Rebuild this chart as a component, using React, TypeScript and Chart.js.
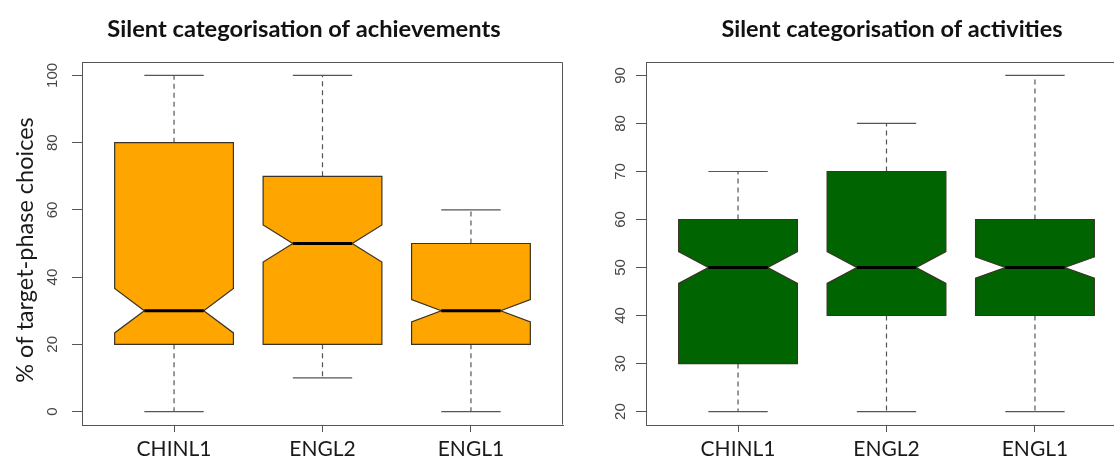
import React, { useEffect, useRef } from "react";
import { Chart, registerables } from "chart.js";

Chart.register(...registerables);

// ---------- data ----------
const categories = ["CHINL1", "ENGL2", "ENGL1"];

const achTitle = "Silent categorisation of achievements";
const achLow = [0, 10, 0];
const achQ1 = [20, 20, 20];
const achMedian = [30, 50, 30];
const achQ3 = [80, 70, 50];
const achHigh = [100, 100, 60];
const achNotchLow = [23.4, 44.5, 26.7];
const achNotchHigh = [36.6, 55.5, 33.3];
const achTicks = [0, 20, 40, 60, 80, 100];

const actTitle = "Silent categorisation of activities";
const actLow = [20, 20, 20];
const actQ1 = [30, 40, 40];
const actMedian = [50, 50, 50];
const actQ3 = [60, 70, 60];
const actHigh = [70, 80, 90];
const actNotchLow = [46.7, 46.7, 47.8];
const actNotchHigh = [53.3, 53.3, 52.2];
const actTicks = [20, 30, 40, 50, 60, 70, 80, 90];

const yAxisLabel = "% of target-phase choices";

// ---------- layout / style ----------
const W = 1114;
const H = 461;
const AXIS_COLOR = "#555555";

type PanelCfg = {
  title: string;
  titleX: number; // page coordinate of title centre
  titleSize: number;
  yLabel?: string;
  low: number[];
  q1: number[];
  med: number[];
  q3: number[];
  high: number[];
  notchLow: number[];
  notchHigh: number[];
  ticks: number[];
  fill: string;
  canvasLeft: number;
  canvasWidth: number;
  padRight: number;
};

function makeChart(canvas: HTMLCanvasElement, p: PanelCfg) {
  const lo = Math.min(...p.low);
  const hi = Math.max(...p.high);
  const ext = 0.04 * (hi - lo);
  const n = categories.length;
  const xExt = 0.04 * n;

  const plugin = {
    id: "notchedBoxes",
    afterDatasetsDraw(chart: any) {
      const { ctx, chartArea: a } = chart;
      const x = chart.scales.x;
      const y = chart.scales.y;
      ctx.save();
      // frame (top and right)
      ctx.strokeStyle = AXIS_COLOR;
      ctx.lineWidth = 1;
      ctx.beginPath();
      const L = Math.round(a.left) + 0.5;
      const R = Math.round(a.right) - 0.5;
      const T = Math.round(a.top) + 0.5;
      const B = Math.round(a.bottom) - 0.5;
      ctx.moveTo(L, T);
      ctx.lineTo(R, T);
      ctx.lineTo(R, B);
      ctx.stroke();

      for (let i = 0; i < n; i++) {
        const pos = i + 1;
        const cx = x.getPixelForValue(pos);
        const hw = x.getPixelForValue(pos + 0.4) - cx;
        const nw = hw / 2;
        const yLow = y.getPixelForValue(p.low[i]);
        const yQ1 = y.getPixelForValue(p.q1[i]);
        const yMed = y.getPixelForValue(p.med[i]);
        const yQ3 = y.getPixelForValue(p.q3[i]);
        const yHigh = y.getPixelForValue(p.high[i]);
        const yNL = y.getPixelForValue(p.notchLow[i]);
        const yNH = y.getPixelForValue(p.notchHigh[i]);

        // whiskers
        ctx.strokeStyle = AXIS_COLOR;
        ctx.lineWidth = 1.2;
        ctx.setLineDash([5, 4]);
        ctx.beginPath();
        ctx.moveTo(cx, yQ3);
        ctx.lineTo(cx, yHigh);
        ctx.moveTo(cx, yQ1);
        ctx.lineTo(cx, yLow);
        ctx.stroke();
        ctx.setLineDash([]);
        // staples
        ctx.beginPath();
        ctx.moveTo(cx - nw, yHigh);
        ctx.lineTo(cx + nw, yHigh);
        ctx.moveTo(cx - nw, yLow);
        ctx.lineTo(cx + nw, yLow);
        ctx.stroke();

        // notched box
        ctx.beginPath();
        ctx.moveTo(cx - hw, yQ3);
        ctx.lineTo(cx + hw, yQ3);
        ctx.lineTo(cx + hw, yNH);
        ctx.lineTo(cx + nw, yMed);
        ctx.lineTo(cx + hw, yNL);
        ctx.lineTo(cx + hw, yQ1);
        ctx.lineTo(cx - hw, yQ1);
        ctx.lineTo(cx - hw, yNL);
        ctx.lineTo(cx - nw, yMed);
        ctx.lineTo(cx - hw, yNH);
        ctx.closePath();
        ctx.fillStyle = p.fill;
        ctx.fill();
        ctx.strokeStyle = "#3a3326";
        ctx.lineWidth = 1.2;
        ctx.stroke();

        // median
        ctx.strokeStyle = "#000000";
        ctx.lineWidth = 3;
        ctx.beginPath();
        ctx.moveTo(cx - nw, yMed);
        ctx.lineTo(cx + nw, yMed);
        ctx.stroke();
      }

      // title
      ctx.fillStyle = "#111111";
      ctx.font = `bold ${p.titleSize}px Lato`;
      ctx.textAlign = "center";
      ctx.textBaseline = "middle";
      ctx.fillText(p.title, p.titleX - p.canvasLeft, 29);

      // y axis label
      if (p.yLabel) {
        ctx.save();
        ctx.translate(25 - p.canvasLeft, 250);
        ctx.rotate(-Math.PI / 2);
        ctx.font = "23.5px Lato";
        ctx.fillStyle = "#1a1a1a";
        ctx.fillText(p.yLabel, 0, 0);
        ctx.restore();
      }
      ctx.restore();
    },
  };

  return new Chart(canvas, {
    type: "scatter",
    data: {
      datasets: [
        {
          label: "median",
          data: p.med.map((m, i) => ({ x: i + 1, y: m })),
          pointRadius: 0,
          showLine: false,
        },
      ],
    },
    options: {
      animation: false,
      responsive: false,
      devicePixelRatio: 1,
      events: [],
      layout: { padding: { top: 62, right: p.padRight, left: 0, bottom: 0 } },
      plugins: {
        legend: { display: false },
        tooltip: { enabled: false },
        title: { display: false },
      },
      scales: {
        x: {
          type: "linear",
          position: "bottom",
          min: 0.5 - xExt,
          max: n + 0.5 + xExt,
          afterBuildTicks: (s: any) => {
            s.ticks = categories.map((_, i) => ({ value: i + 1 }));
          },
          afterFit: (s: any) => {
            s.height = H - 425;
          },
          ticks: {
            autoSkip: false,
            maxRotation: 0,
            minRotation: 0,
            padding: 5,
            color: "#1a1a1a",
            font: { family: "Lato", size: 21 },
            callback: (v: any) => categories[Math.round(Number(v)) - 1] ?? "",
          },
          grid: {
            display: true,
            drawOnChartArea: false,
            drawTicks: true,
            tickLength: 7,
            color: AXIS_COLOR,
          },
          border: { display: true, color: AXIS_COLOR, width: 1 },
        },
        y: {
          type: "linear",
          position: "left",
          min: lo - ext,
          max: hi + ext,
          afterBuildTicks: (s: any) => {
            s.ticks = p.ticks.map((v) => ({ value: v }));
          },
          afterFit: (s: any) => {
            s.width = 82;
          },
          ticks: {
            autoSkip: false,
            minRotation: 90,
            maxRotation: 90,
            crossAlign: "center",
            padding: 7,
            color: "#444444",
            font: { family: "Liberation Sans", size: 15 },
          },
          grid: {
            display: true,
            drawOnChartArea: false,
            drawTicks: true,
            tickLength: 10,
            color: AXIS_COLOR,
          },
          border: { display: true, color: AXIS_COLOR, width: 1 },
        },
      },
    },
    plugins: [plugin],
  } as any);
}

const leftPanel: PanelCfg = {
  title: achTitle,
  titleX: 304,
  titleSize: 23.7,
  yLabel: yAxisLabel,
  low: achLow,
  q1: achQ1,
  med: achMedian,
  q3: achQ3,
  high: achHigh,
  notchLow: achNotchLow,
  notchHigh: achNotchHigh,
  ticks: achTicks,
  fill: "#FFA500",
  canvasLeft: 0,
  canvasWidth: 564,
  padRight: 1,
};

const rightPanel: PanelCfg = {
  title: actTitle,
  titleX: 892,
  titleSize: 23.5,
  low: actLow,
  q1: actQ1,
  med: actMedian,
  q3: actQ3,
  high: actHigh,
  notchLow: actNotchLow,
  notchHigh: actNotchHigh,
  ticks: actTicks,
  fill: "#006400",
  canvasLeft: 564,
  canvasWidth: 570,
  padRight: 7,
};

export default function App() {
  const leftRef = useRef<HTMLCanvasElement>(null);
  const rightRef = useRef<HTMLCanvasElement>(null);

  useEffect(() => {
    const charts: Chart[] = [];
    if (leftRef.current) charts.push(makeChart(leftRef.current, leftPanel));
    if (rightRef.current) charts.push(makeChart(rightRef.current, rightPanel));
    return () => charts.forEach((c) => c.destroy());
  }, []);

  return (
    <div
      style={{
        position: "fixed",
        left: 0,
        top: 0,
        width: W,
        height: H,
        overflow: "hidden",
        background: "#ffffff",
      }}
    >
      <canvas
        ref={leftRef}
        width={leftPanel.canvasWidth}
        height={H}
        style={{ position: "absolute", left: leftPanel.canvasLeft, top: 0, width: leftPanel.canvasWidth, height: H }}
      />
      <canvas
        ref={rightRef}
        width={rightPanel.canvasWidth}
        height={H}
        style={{ position: "absolute", left: rightPanel.canvasLeft, top: 0, width: rightPanel.canvasWidth, height: H }}
      />
    </div>
  );
}
